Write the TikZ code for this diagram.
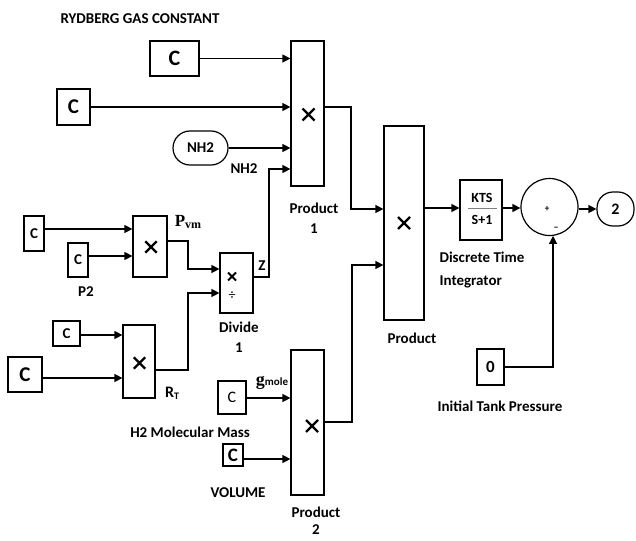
\documentclass[tikz,border=0pt]{standalone}
\usepackage{fontspec}
\setmainfont{Carlito}
\newfontfamily\serf{Liberation Serif}
\usetikzlibrary{arrows.meta,calc}
\newcommand{\xmk}[3]{\draw[line width=2.4pt] (#1-#3,#2-#3) -- (#1+#3,#2+#3) (#1-#3,#2+#3) -- (#1+#3,#2-#3);}
\begin{document}
\begin{tikzpicture}[x=1pt,y=-1pt,
  line width=1.2pt,
  arr/.style={-{Triangle[length=8pt,width=8pt]}},
  blk/.style={draw,rectangle,inner sep=0pt,font=\bfseries\fontsize{15}{15}\selectfont},
  lbl/.style={font=\bfseries\fontsize{15}{20}\selectfont,inner sep=0pt,align=center}]
\useasboundingbox (0,0) rectangle (636,540);
% constants
\node[blk,minimum width=49pt,minimum height=35pt,font=\bfseries\fontsize{22}{22}\selectfont] (c1) at (174.5,58.5) {C};
\node[blk,minimum width=33pt,minimum height=36pt,font=\bfseries\fontsize{21}{21}\selectfont] (c2) at (73.5,107) {C};
\node[blk,minimum width=55pt,minimum height=34pt,rounded corners=17pt] (nh2) at (200.5,148) {NH2};
\node[blk,minimum width=20pt,minimum height=35pt] (ca) at (34,233.5) {C};
\node[blk,minimum width=20pt,minimum height=34pt] (cp2) at (78,260) {C};
\node[blk,minimum width=27pt,minimum height=25pt] (cc) at (66.5,333.5) {C};
\node[blk,minimum width=34pt,minimum height=35pt,font=\bfseries\fontsize{21}{21}\selectfont] (cd) at (25,374.5) {C};
\node[blk,minimum width=28pt,minimum height=33pt,font=\fontsize{16}{16}\selectfont] (cg) at (232,397.5) {C};
\node[blk,minimum width=20pt,minimum height=22pt,font=\bfseries\fontsize{19}{19}\selectfont] (cv) at (233,455) {C};
\node[blk,minimum width=27pt,minimum height=36pt,font=\bfseries\fontsize{17}{17}\selectfont] (zero) at (490.5,367) {0};
% blocks
\node[blk,minimum width=33pt,minimum height=145pt] (p1) at (307.5,113.5) {};
\xmk{308.5}{114.5}{6}
\node[blk,minimum width=40pt,minimum height=194pt] (prod) at (404,223) {};
\xmk{404}{223}{6}
\node[blk,minimum width=33pt,minimum height=145pt] (p2) at (307.5,422.5) {};
\xmk{312}{426}{6}
\node[blk,minimum width=34pt,minimum height=61pt] (pvm) at (150,246.5) {};
\xmk{151}{247}{5.7}
\node[blk,minimum width=32pt,minimum height=73pt] (rt) at (139,361.5) {};
\xmk{139.5}{363}{5.7}
\node[blk,minimum width=33pt,minimum height=60pt] (div) at (236.5,283) {};
\draw[line width=1.8pt] (228,272.5) -- (236,280.5) (228,280.5) -- (236,272.5);
\node[font=\fontsize{14}{14}\selectfont] at (232,296) {÷};
\node[blk,minimum width=42pt,minimum height=60pt] (integ) at (481,210) {};
\node[font=\bfseries\fontsize{14}{14}\selectfont] at (482,197.5) {KTS};
\draw[line width=0.8pt,gray] (468,208) -- (497,208);
\node[font=\bfseries\fontsize{14}{14}\selectfont] at (482,220) {S+1};
\node[draw,circle,minimum size=57pt,inner sep=0pt] (sum) at (549.5,207) {};
\node[font=\bfseries\fontsize{9}{9}\selectfont] at (547,209) {+};
\node[font=\bfseries\fontsize{10}{10}\selectfont] at (556,229) {–};
\node[blk,minimum width=37pt,minimum height=34pt,rounded corners=16pt,font=\bfseries\fontsize{16}{16}\selectfont] (out) at (615.5,209) {2};
% connectors
\draw[arr] (c1) -- (c1 -| p1.west);
\draw[arr] (c2) -- (c2 -| p1.west);
\draw[arr] (nh2) -- (nh2 -| p1.west);
\draw[arr] (div.east |- 0,277) -| (269,169) -- (p1.west |- 0,169);
\draw[arr] (ca.east |- 0,229) -- (pvm.west |- 0,229);
\draw[arr] (cp2.east |- 0,256) -- (pvm.west |- 0,256);
\draw[arr] (pvm.east |- 0,241) -| (188,269) -- (div.west |- 0,269);
\draw[arr] (rt.east |- 0,370) -| (188,293) -- (div.west |- 0,293);
\draw[arr] (cc.east |- 0,335) -- (rt.west |- 0,335);
\draw[arr] (cd.east |- 0,378) -- (rt.west |- 0,378);
\draw[arr] (p1.east |- 0,107) -| (351,209) -- (prod.west |- 0,209);
\draw[arr] (p2.east |- 0,422) -| (352,265) -- (prod.west |- 0,265);
\draw[arr] (cg.east |- 0,398) -- (p2.west |- 0,398);
\draw[arr] (cv.east |- 0,459) -- (p2.west |- 0,459);
\draw[arr] (prod.east |- 0,208) -- (integ.west |- 0,208);
\draw[arr] (integ.east |- 0,208) -- (sum.west |- 0,208);
\draw[arr] (sum.east |- 0,209) -- (out.west);
\draw[arr] (zero.east) -| (sum.-83);
% labels
\node[lbl] (t1) at (140,19) {RYDBERG GAS CONSTANT};
\node[lbl] (t2) at (244,169) {NH2};
\node[lbl] (t3) at (314,218) {Product\\1};
\node[lbl] (t4) at (412,338) {Product};
\node[lbl,align=left,anchor=west,font=\bfseries\fontsize{15}{23}\selectfont] (t5) at (439,270.5) {Discrete Time\\Integrator};
\node[lbl] (t6) at (500,406) {Initial Tank Pressure};
\node[lbl] (t7) at (86,292) {P2};
\node[lbl] (t8) at (262,266) {Z};
\node[lbl] (t9) at (239,337) {Divide\\1};
\node[inner sep=0pt] (t10) at (188,222) {\serf\bfseries\fontsize{17}{17}\selectfont P\fontsize{12}{12}\selectfont\raisebox{-2pt}{vm}};
\node[inner sep=0pt] (t11) at (172,393) {\bfseries\fontsize{16}{16}\selectfont R\fontsize{10}{10}\selectfont\raisebox{-2pt}{T}};
\node[inner sep=0pt] (t12) at (272,383) {\serf\bfseries\fontsize{18}{18}\selectfont g\rmfamily\bfseries\fontsize{11}{11}\selectfont mole};
\node[lbl] (t13) at (190,432) {H2 Molecular Mass};
\node[lbl] (t14) at (238,493) {VOLUME};
\node[lbl,anchor=north,font=\bfseries\fontsize{15}{17}\selectfont] (t15) at (316,506) {Product\\2};
\end{tikzpicture}
\end{document}
